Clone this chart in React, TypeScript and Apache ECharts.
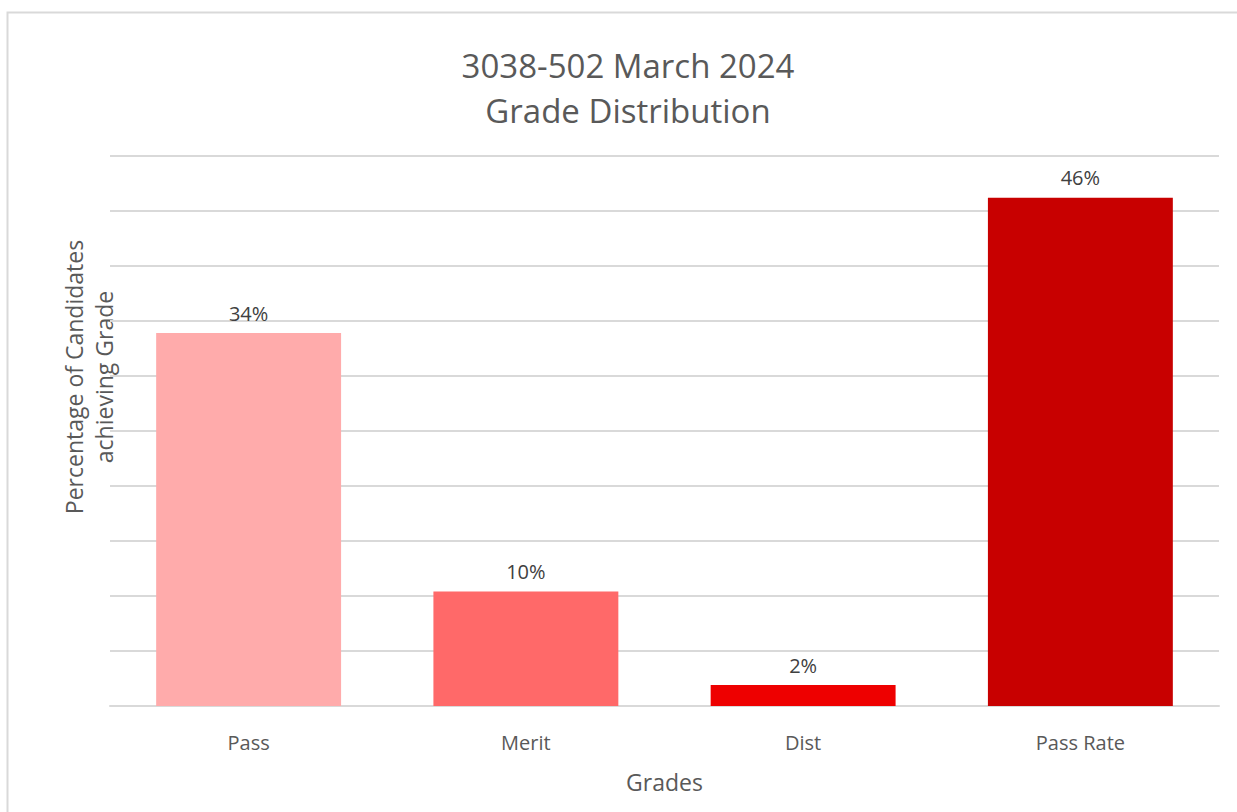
import React, { useEffect, useRef } from "react";
import * as echarts from "echarts";

const categories = ["Pass", "Merit", "Dist", "Pass Rate"];
const values = [33.9, 10.4, 1.9, 46.2];
const labels = ["34%", "10%", "2%", "46%"];
const colors = ["#FFABAB", "#FF6969", "#EE0000", "#C80000"];

export default function App() {
  const ref = useRef<HTMLDivElement>(null);
  useEffect(() => {
    const chart = echarts.init(ref.current!, undefined, { renderer: "svg" });
    const font = "'Open Sans', 'Liberation Sans', sans-serif";
    chart.setOption({
      animation: false,
      backgroundColor: "#ffffff",
      title: {
        text: "3038-502 March 2024\nGrade Distribution",
        left: 623,
        textAlign: "center",
        top: 38,
        textStyle: {
          fontFamily: font,
          fontSize: 33,
          fontWeight: "normal",
          color: "#595959",
          lineHeight: 45,
        },
      },
      graphic: [
        {
          type: "rect",
          shape: { x: 7.5, y: 12.5, width: 1260, height: 830 },
          style: { fill: "none", stroke: "#d9d9d9", lineWidth: 2 },
          silent: true,
        },
        {
          type: "text",
          x: 89,
          y: 377,
          rotation: Math.PI / 2,
          style: {
            text: "Percentage of Candidates\nachieving Grade",
            fontFamily: font,
            fontSize: 23,
            fill: "#595959",
            align: "center",
            verticalAlign: "middle",
            lineHeight: 30,
          },
        },
      ],
      grid: { left: 110, right: 18, top: 156, bottom: 106 },
      xAxis: {
        type: "category",
        data: categories,
        axisLine: { show: true, lineStyle: { color: "#d9d9d9", width: 2 } },
        axisTick: { show: false },
        axisLabel: { fontFamily: font, fontSize: 20, color: "#595959", margin: 26 },
        name: "Grades",
        nameLocation: "middle",
        nameGap: 64,
        nameTextStyle: { fontFamily: font, fontSize: 23, color: "#595959" },
      },
      yAxis: {
        type: "value",
        min: 0,
        max: 50,
        interval: 5,
        axisLabel: { show: false },
        axisLine: { show: false },
        axisTick: { show: false },
        splitLine: { lineStyle: { color: "#d9d9d9", width: 2 } },
      },
      series: [
        {
          type: "bar",
          barWidth: "66.7%",
          data: values.map((v, i) => ({ value: v, itemStyle: { color: colors[i] } })),
          label: {
            show: true,
            position: "top",
            distance: 10,
            fontFamily: font,
            fontSize: 20,
            color: "#404040",
            formatter: (p: any) => labels[p.dataIndex],
          },
        },
      ],
    });
    return () => chart.dispose();
  }, []);
  return (
    <div
      ref={ref}
      style={{ position: "absolute", left: 0, top: 0, width: 1237, height: 812 }}
    />
  );
}
